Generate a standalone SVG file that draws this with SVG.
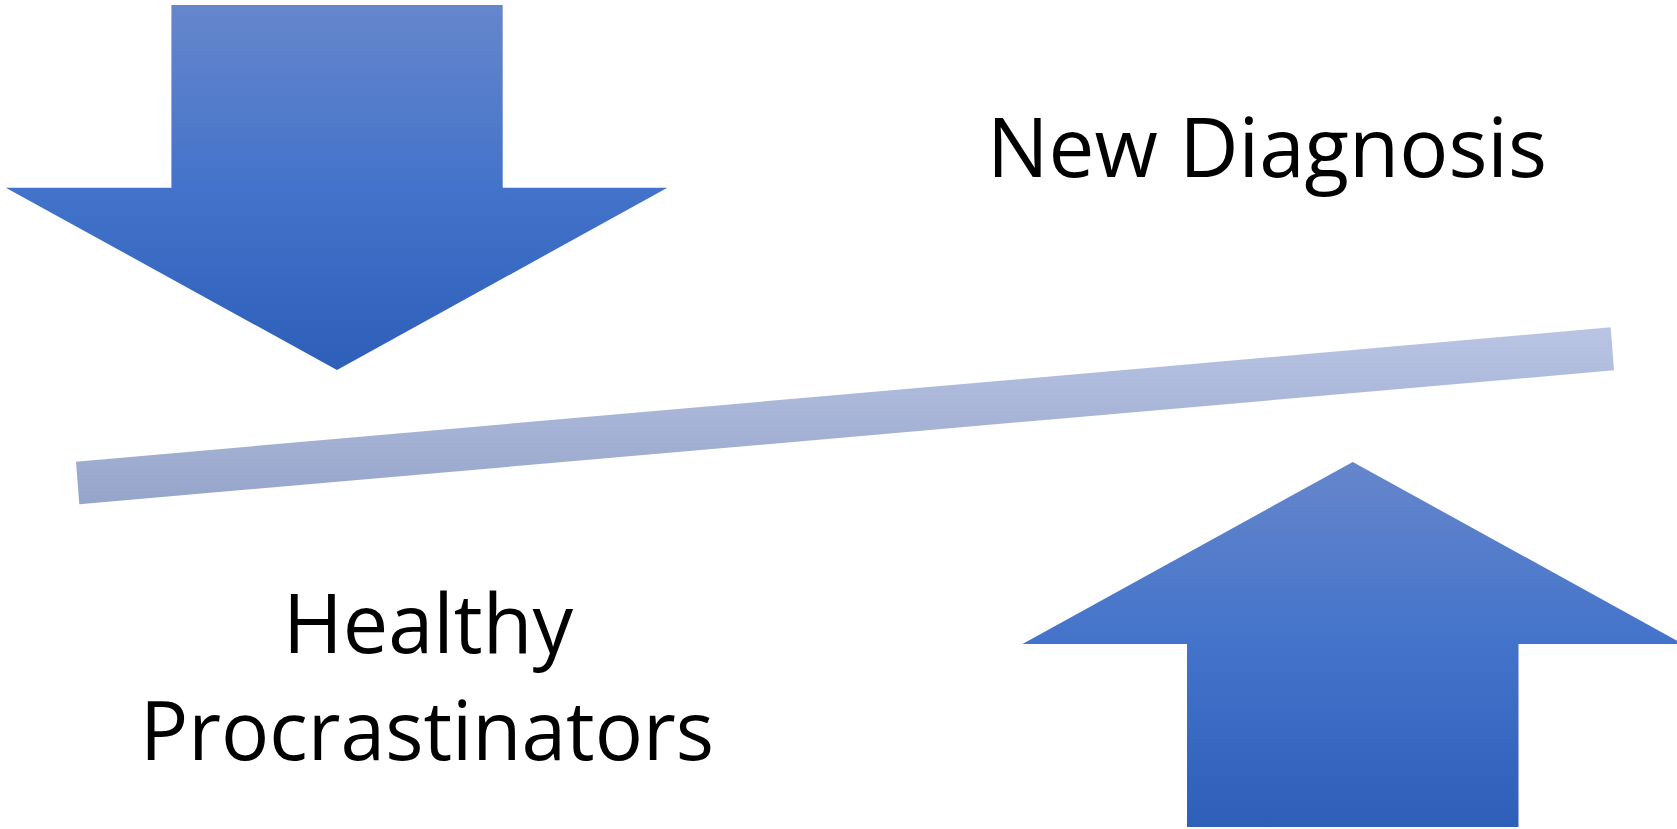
<svg xmlns="http://www.w3.org/2000/svg" width="1677" height="829" viewBox="0 0 1677 829">
  <defs>
    <linearGradient id="arrowFill" x1="0" y1="0" x2="0" y2="1">
      <stop offset="0" stop-color="#6686cc"/>
      <stop offset="0.5" stop-color="#4373ca"/>
      <stop offset="1" stop-color="#2e5fb9"/>
    </linearGradient>
    <linearGradient id="beamFill" gradientUnits="userSpaceOnUse" x1="0" y1="327" x2="0" y2="505">
      <stop offset="0" stop-color="#bac5e4"/>
      <stop offset="1" stop-color="#95a4ca"/>
    </linearGradient>
    <style>
      .arrow { fill: url(#arrowFill); }
      .beam { fill: url(#beamFill); }
      .label { font-family: "Open Sans", "Noto Sans", sans-serif; font-size: 83px; fill: #000; text-anchor: middle; }
    </style>
  </defs>

  <!-- tilted balance beam -->
  <g id="beam">
    <polygon class="beam" points="76,461.7 1610.7,327.3 1614,370.3 79.3,504.3"/>
  </g>

  <!-- downward pressure arrow, top left -->
  <g id="arrow-down">
    <polygon class="arrow" points="171.4,5 502.7,5 502.7,187.7 667.4,187.7 337,370 5.8,187.7 171.4,187.7"/>
  </g>

  <!-- upward pressure arrow, bottom right -->
  <g id="arrow-up">
    <polygon class="arrow" points="1352.8,462 1683,644 1518.5,644 1518.5,827 1187,827 1187,644 1022.5,644"/>
  </g>

  <g id="label-new-diagnosis">
    <text class="label" x="1267" y="177.3" textLength="560" lengthAdjust="spacingAndGlyphs">New Diagnosis</text>
  </g>

  <g id="label-healthy-procrastinators">
    <text class="label" x="428" y="653.3" textLength="290" lengthAdjust="spacingAndGlyphs">Healthy</text>
    <text class="label" x="427" y="760" textLength="574" lengthAdjust="spacingAndGlyphs">Procrastinators</text>
  </g>
</svg>
